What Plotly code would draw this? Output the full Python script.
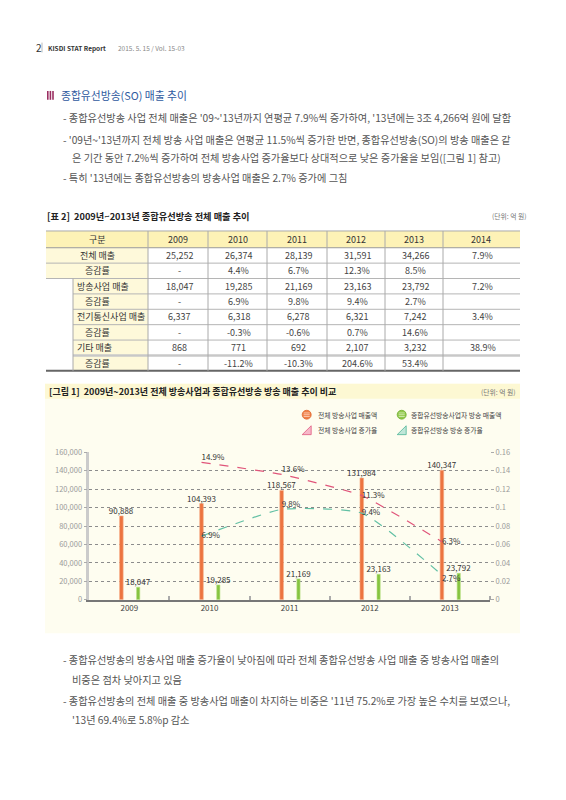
import plotly.graph_objects as go

W, H = 566, 800
OFF = 8  # the page body keeps its default 8px margin
FONT = "Noto Sans CJK KR"

# ---- chart data (억 원) ----
years = [2009, 2010, 2011, 2012, 2013]
total_sales = [90888, 104393, 118567, 131984, 140347]
# green bars are drawn lower than their labels in the source picture
so_bar_height = [13700, 16100, 22700, 27700, 28700]
so_sales_text = ["18,047", "19,285", "21,169", "23,163", "23,792"]
growth_years = [2010, 2011, 2012, 2013]
total_growth = [0.149, 0.136, 0.113, 0.063]
so_growth = [0.069, 0.098, 0.094, 0.027]

# ---- table data ----
tbl_head = ["2009", "2010", "2011", "2012", "2013", "2014"]
tbl_labels = ["전체 매출", "증감률", "방송사업 매출", "증감률",
              "전기통신사업 매출", "증감률", "기타 매출", "증감률"]
row_total = ["25,252", "26,374", "28,139", "31,591", "34,266", "7.9%"]
row_total_chg = ["-", "4.4%", "6.7%", "12.3%", "8.5%", ""]
row_bc = ["18,047", "19,285", "21,169", "23,163", "23,792", "7.2%"]
row_bc_chg = ["-", "6.9%", "9.8%", "9.4%", "2.7%", ""]
row_tel = ["6,337", "6,318", "6,278", "6,321", "7,242", "3.4%"]
row_tel_chg = ["-", "-0.3%", "-0.6%", "0.7%", "14.6%", ""]
row_etc = ["868", "771", "692", "2,107", "3,232", "38.9%"]
row_etc_chg = ["-", "-11.2%", "-10.3%", "204.6%", "53.4%", ""]
tbl_rows = [row_total, row_total_chg, row_bc, row_bc_chg,
            row_tel, row_tel_chg, row_etc, row_etc_chg]

top_text = [
    "- 종합유선방송 사업 전체 매출은 '09~'13년까지 연평균 7.9%씩 증가하여, '13년에는 3조 4,266억 원에 달함",
    "- '09년~'13년까지 전체 방송 사업 매출은 연평균 11.5%씩 증가한 반면, 종합유선방송(SO)의 방송 매출은 같",
    "은 기간 동안 7.2%씩 증가하여 전체 방송사업 증가율보다 상대적으로 낮은 증가율을 보임([그림 1] 참고)",
    "- 특히 '13년에는 종합유선방송의 방송사업 매출은 2.7% 증가에 그침",
]
bottom_text = [
    "- 종합유선방송의 방송사업 매출 증가율이 낮아짐에 따라 전체 종합유선방송 사업 매출 중 방송사업 매출의",
    "비중은 점차 낮아지고 있음",
    "- 종합유선방송의 전체 매출 중 방송사업 매출이 차지하는 비중은 '11년 75.2%로 가장 높은 수치를 보였으나,",
    "'13년 69.4%로 5.8%p 감소",
]
legend_names = ["전체 방송사업 매출액", "종합유선방송사업자 방송 매출액",
                "전체 방송사업 증가율", "종합유선방송 방송 증가율"]


def px(x):
    return (x - OFF) / W


def py(y):
    return 1 - (y - OFF) / H


ORANGE = "#ec7440"
GREEN = "#86c440"
RED = "#e0557a"
TEAL = "#62c0a4"

fig = go.Figure()

fig.add_trace(go.Bar(
    x=years, y=total_sales, width=0.045, offset=-0.1225,
    marker=dict(color=ORANGE, line=dict(color="#f6b08a", width=0.6)),
    text=[f"{v:,}" for v in total_sales], textposition="outside",
    textfont=dict(size=8, color="#333"), constraintext="none",
    cliponaxis=False, hoverinfo="skip"))
fig.add_trace(go.Bar(
    x=years, y=so_bar_height, width=0.04, offset=0.09,
    marker=dict(color=GREEN, line=dict(color="#b9e083", width=0.6)),
    text=so_sales_text, textposition="outside",
    textfont=dict(size=8, color="#333"), constraintext="none",
    cliponaxis=False, hoverinfo="skip"))

line_x = [y - 0.1 for y in growth_years]
fig.add_trace(go.Scatter(
    x=line_x, y=total_growth, yaxis="y2", mode="lines+text",
    line=dict(color=RED, width=1.2, dash="dash", shape="spline", smoothing=0.4),
    text=[f"{v * 100:.1f}%" for v in total_growth],
    textposition=["top right", "top right", "middle right", "middle right"],
    textfont=dict(size=8, color="#333"), cliponaxis=False, hoverinfo="skip"))
fig.add_trace(go.Scatter(
    x=line_x, y=so_growth, yaxis="y2", mode="lines+text",
    line=dict(color=TEAL, width=1.2, dash="dash", shape="spline", smoothing=0.5),
    text=[f"{v * 100:.1f}%" for v in so_growth],
    textposition=["middle right", "top right", "middle right", "bottom right"],
    textfont=dict(size=8, color="#333"), cliponaxis=False, hoverinfo="skip"))

shapes = []
ann = []


def text(x, y, s, size=9, color="#444", anchor="left", bold=False):
    if bold:
        s = f"<b>{s}</b>"
    ann.append(dict(x=px(x), y=py(y), xref="paper", yref="paper", text=s,
                    showarrow=False, xanchor=anchor, yanchor="middle",
                    font=dict(size=size, color=color, family=FONT)))


def hline(x0, x1, y, color, width=1):
    shapes.append(dict(type="line", xref="paper", yref="paper",
                       x0=px(x0), x1=px(x1), y0=py(y), y1=py(y),
                       line=dict(color=color, width=width)))


def vline(x, y0, y1, color, width=1):
    shapes.append(dict(type="line", xref="paper", yref="paper",
                       x0=px(x), x1=px(x), y0=py(y0), y1=py(y1),
                       line=dict(color=color, width=width)))


def box(x0, y0, x1, y1, fill):
    shapes.append(dict(type="rect", xref="paper", yref="paper", layer="below",
                       x0=px(x0), x1=px(x1), y0=py(y0), y1=py(y1),
                       fillcolor=fill, line=dict(width=0)))


# page header
text(34, 42, "2", size=10, color="#333")
vline(42, 37, 47, "#bbb")
text(46, 42, "KISDI STAT Report", size=6.5, color="#333", bold=True)
text(116, 42, "2015. 5. 15 / Vol. 15-03", size=6.5, color="#888")

# section title
for i in range(3):
    box(47 + i * 2.6, 86, 48.6 + i * 2.6, 95, "#9b2f62")
text(59, 90, "종합유선방송(SO) 매출 추이", size=10.8, color="#2f5aa0")

top_y = [113, 135, 153, 174]
for i, s in enumerate(top_text):
    text(61 if s.startswith("-") else 70, top_y[i], s, size=10.2, color="#555")

# table
text(45, 213, "[표 2]  2009년~2013년 종합유선방송 전체 매출 추이", size=9.2, color="#222", bold=True)
text(529, 213, "(단위: 억 원)", size=6.8, color="#777", anchor="right")

edges = [46, 73, 148, 208, 267, 327, 385, 443, 520]
t_top, h_bot, rh = 228, 245, 15.6
t_bot = h_bot + rh * len(tbl_labels)
HEAD_FILL = "#fdf2b6"
LAB_FILL = "#fef9da"
box(edges[0], t_top, edges[-1], h_bot, HEAD_FILL)
box(edges[0], h_bot, edges[2], h_bot + 2 * rh, LAB_FILL)
box(edges[1], h_bot + 2 * rh, edges[2], t_bot, LAB_FILL)
hline(edges[0], edges[-1], t_top, "#aaa", 1)
hline(edges[0], edges[-1], h_bot, "#999", 1)
for r in range(1, len(tbl_labels)):
    yy = h_bot + r * rh
    x0 = edges[0] if r <= 2 else edges[1]
    if r == len(tbl_labels) - 1:
        hline(x0, edges[-1], yy, "#c8c8c8", 2.5)
    else:
        hline(x0, edges[-1], yy, "#b5b5b5", 1)
hline(edges[0], edges[-1], t_bot, "#666", 2)
for e in edges[2:-1]:
    vline(e, t_top, t_bot, "#aaa")
vline(edges[1], h_bot + 2 * rh, t_bot, "#aaa")

hc = (t_top + h_bot) / 2
text((edges[0] + edges[2]) / 2, hc, "구분", size=9, color="#333", anchor="center")
for j, s in enumerate(tbl_head):
    text((edges[j + 2] + edges[j + 3]) / 2, hc, s, size=9, color="#333", anchor="center")
for r, lab in enumerate(tbl_labels):
    cy = h_bot + (r + 0.5) * rh
    if r < 2:
        text((edges[0] + edges[2]) / 2, cy, lab, size=9, color="#333", anchor="center")
    elif r % 2 == 0:
        text(edges[1] + 2, cy, lab, size=9, color="#333")
    else:
        text(edges[1] + 10, cy, lab, size=9, color="#333")
    for j, v in enumerate(tbl_rows[r]):
        if v:
            text((edges[j + 2] + edges[j + 3]) / 2 + 1, cy, v, size=9, color="#444", anchor="center")

# chart panel
box(45, 383, 520, 636, "#fefdf0")
box(45, 383, 520, 398, "#fdf8d3")
text(47, 391, "[그림 1]  2009년~2013년 전체 방송사업과 종합유선방송 방송 매출 추이 비교",
     size=9, color="#222", bold=True)
text(518, 391, "(단위: 억 원)", size=6.8, color="#777", anchor="right")

# legend (2 x 2)
lx = [306.7, 401.7]
ly = [414.3, 430]
shapes.append(dict(type="circle", xref="paper", yref="paper",
                   x0=px(lx[0] - 4.5), x1=px(lx[0] + 4.5), y0=py(ly[0] - 4.5), y1=py(ly[0] + 4.5),
                   fillcolor="#f08048", line=dict(color="#e0672e", width=0.8)))
shapes.append(dict(type="circle", xref="paper", yref="paper",
                   x0=px(lx[1] - 4.5), x1=px(lx[1] + 4.5), y0=py(ly[0] - 4.5), y1=py(ly[0] + 4.5),
                   fillcolor="#92c84a", line=dict(color="#6fae2e", width=0.8)))
for k in (-1.8, 0, 1.8):
    hline(lx[0] - 3, lx[0] + 3, ly[0] + k, "#fde3d2", 0.7)
    hline(lx[1] - 3, lx[1] + 3, ly[0] + k, "#e3f2cf", 0.7)
for cx, fill, edge in ((lx[0], "#f7b8c9", "#e05a80"), (lx[1], "#bfe6d8", "#4fb598")):
    x0, x1, y0, y1 = px(cx - 4.5), px(cx + 4.5), py(ly[1] + 4.5), py(ly[1] - 4.5)
    shapes.append(dict(type="path", xref="paper", yref="paper",
                       path=f"M {x0},{y0} L {x1},{y0} L {x1},{y1} Z",
                       fillcolor=fill, line=dict(color=edge, width=0.8)))
text(lx[0] + 9, ly[0], legend_names[0], size=6.8, color="#444")
text(lx[1] + 7, ly[0], legend_names[1], size=6.8, color="#444")
text(lx[0] + 9, ly[1], legend_names[2], size=6.8, color="#444")
text(lx[1] + 7, ly[1], legend_names[3], size=6.8, color="#444")

bottom_y = [662, 683, 704, 723]
for i, s in enumerate(bottom_text):
    text(61 if s.startswith("-") else 70, bottom_y[i], s, size=10.2, color="#555")

fig.update_layout(
    width=W, height=H, margin=dict(l=0, r=0, t=0, b=0),
    paper_bgcolor="white", plot_bgcolor="rgba(0,0,0,0)",
    font=dict(family=FONT, size=8, color="#444"),
    showlegend=False, barmode="overlay",
    shapes=shapes, annotations=ann,
    xaxis=dict(domain=[px(89.3), px(490)], range=[2008.5, 2013.5],
               tickmode="array", tickvals=years, ticktext=[str(y) for y in years],
               ticks="", showgrid=False, zeroline=False,
               showline=True, linecolor="#777", linewidth=1.5,
               tickfont=dict(size=8, color="#444"),
               minor=dict(tickmode="array", tickvals=[y + 0.5 for y in years],
                          ticks="inside", ticklen=4, tickwidth=1.5,
                          tickcolor="#aaa", showgrid=False)),
    yaxis=dict(domain=[py(602), py(452.3)], range=[0, 160000], dtick=20000,
               tickformat=",d", showgrid=True, gridcolor="#8c8c8c",
               griddash="dot", gridwidth=1, zeroline=False,
               showline=True, linecolor="#cbcbcb", linewidth=2.5,
               ticks="outside", ticklen=3, tickcolor="#aaa",
               tickfont=dict(size=7.5, color="#9a9a9a")),
    yaxis2=dict(overlaying="y", side="right", range=[0, 0.16], dtick=0.02,
                showgrid=False, zeroline=False, showline=False,
                ticks="outside", ticklen=3, tickcolor="#aaa",
                tickfont=dict(size=7.5, color="#9a9a9a")),
)

fig.write_html("out.html")
